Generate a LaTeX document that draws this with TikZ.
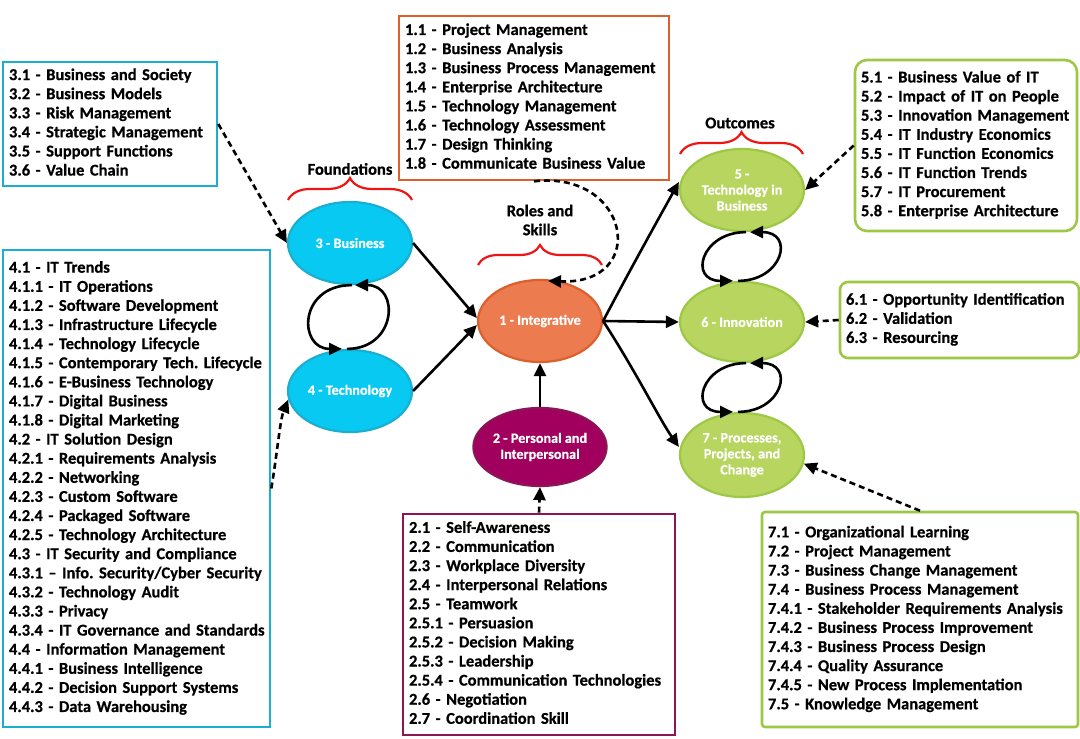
\documentclass[tikz,border=0pt]{standalone}
\usepackage{fontspec}
\setmainfont{Carlito}[BoldFont={Carlito Bold}, BoldFeatures={FakeBold=0.6}]
\usetikzlibrary{arrows.meta,shapes.geometric,decorations.pathreplacing,calc}
\definecolor{cyanF}{HTML}{08C9F2}
\definecolor{cyanD}{HTML}{1AAFD0}
\definecolor{orgF}{HTML}{EC7B4F}
\definecolor{orgD}{HTML}{DC602B}
\definecolor{purF}{HTML}{A2005E}
\definecolor{purD}{HTML}{8C1556}
\definecolor{grnF}{HTML}{B7D55F}
\definecolor{grnD}{HTML}{9DC846}
\definecolor{bracered}{HTML}{F01515}
\frenchspacing
\begin{document}
\begin{tikzpicture}[x=1pt,y=-1pt,
  listbox/.style={draw=#1, line width=2.6pt, fill=white, inner xsep=6pt, inner ysep=0pt, align=left,
    font=\fontsize{16.5}{19.1}\selectfont\bfseries},
  oval/.style={ellipse, draw=#1D, fill=#1F, line width=2.2pt, minimum width=124pt, minimum height=82pt,
    inner sep=0pt, text=white, align=center, font=\fontsize{14.2}{16}\selectfont\bfseries},
  lbl/.style={align=center, font=\fontsize{16.5}{19}\selectfont\bfseries, inner sep=0pt},
  arr/.style={line width=2.6pt, -{Triangle[length=13pt,width=12pt]}},
  darr/.style={arr, dash pattern=on 6pt off 4pt},
  brc/.style={draw=bracered, line width=2.2pt, decorate, decoration={brace, amplitude=#1}},
]
\useasboundingbox (0,0) rectangle (1080,739);

% ---------- list boxes ----------
\node[listbox=cyanD, text width=202pt, minimum height=124pt] (b3) at (110,124) {\begin{tabular}{@{}l@{}}
3.1 - Business and Society\\
3.2 - Business Models\\
3.3 - Risk Management\\
3.4 - Strategic Management\\
3.5 - Support Functions\\
3.6 - Value Chain
\end{tabular}};

\node[listbox=cyanD, text width=255pt, minimum height=477pt] (b4) at (136.5,488.5) {\begin{tabular}{@{}l@{}}
4.1 - IT Trends\\
4.1.1 - IT Operations\\
4.1.2 - Software Development\\
4.1.3 - Infrastructure Lifecycle\\
4.1.4 - Technology Lifecycle\\
4.1.5 - Contemporary Tech. Lifecycle\\
4.1.6 - E-Business Technology\\
4.1.7 - Digital Business\\
4.1.8 - Digital Marketing\\
4.2 - IT Solution Design\\
4.2.1 - Requirements Analysis\\
4.2.2 - Networking\\
4.2.3 - Custom Software\\
4.2.4 - Packaged Software\\
4.2.5 - Technology Architecture\\
4.3 - IT Security and Compliance\\
4.3.1 – Info. Security/Cyber Security\\
4.3.2 - Technology Audit\\
4.3.3 - Privacy\\
4.3.4 - IT Governance and Standards\\
4.4 - Information Management\\
4.4.1 - Business Intelligence\\
4.4.2 - Decision Support Systems\\
4.4.3 - Data Warehousing
\end{tabular}};

\node[listbox=orgD, text width=258pt, minimum height=164pt] (b1) at (534,98) {\begin{tabular}{@{}l@{}}
1.1 - Project Management\\
1.2 - Business Analysis\\
1.3 - Business Process Management\\
1.4 - Enterprise Architecture\\
1.5 - Technology Management\\
1.6 - Technology Assessment\\
1.7 - Design Thinking\\
1.8 - Communicate Business Value
\end{tabular}};

\node[listbox=grnD, rounded corners=12pt, text width=210pt, minimum height=171pt] (b5) at (966,145.5) {\begin{tabular}{@{}l@{}}
5.1 - Business Value of IT\\
5.2 - Impact of IT on People\\
5.3 - Innovation Management\\
5.4 - IT Industry Economics\\
5.5 - IT Function Economics\\
5.6 - IT Function Trends\\
5.7 - IT Procurement\\
5.8 - Enterprise Architecture
\end{tabular}};

\node[listbox=grnD, rounded corners=8pt, text width=227pt, minimum height=76pt] (b6) at (959.5,320) {\begin{tabular}{@{}l@{}}
6.1 - Opportunity Identification\\
6.2 - Validation\\
6.3 - Resourcing
\end{tabular}};

\node[listbox=purD, text width=260pt, minimum height=221pt] (b2) at (539,624.5) {\begin{tabular}{@{}l@{}}
2.1 - Self-Awareness\\
2.2 - Communication\\
2.3 - Workplace Diversity\\
2.4 - Interpersonal Relations\\
2.5 - Teamwork\\
2.5.1 - Persuasion\\
2.5.2 - Decision Making\\
2.5.3 - Leadership\\
2.5.4 - Communication Technologies\\
2.6 - Negotiation\\
2.7 - Coordination Skill
\end{tabular}};

\node[listbox=grnD, rounded corners=3pt, text width=304pt, minimum height=215pt] (b7) at (920,619.5) {\begin{tabular}{@{}l@{}}
7.1 - Organizational Learning\\
7.2 - Project Management\\
7.3 - Business Change Management\\
7.4 - Business Process Management\\
7.4.1 - Stakeholder Requirements Analysis\\
7.4.2 - Business Process Improvement\\
7.4.3 - Business Process Design\\
7.4.4 - Quality Assurance\\
7.4.5 - New Process Implementation\\
7.5 - Knowledge Management
\end{tabular}};

% ---------- ellipses ----------
\node[oval=cyan] (bus) at (350,243) {3 - Business};
\node[oval=cyan] (tech) at (350,391) {4 - Technology};
\node[oval=org] (integ) at (540,321) {1 - Integrative};
\node[oval=pur, minimum height=78pt] (pers) at (540,447) {2 - Personal and\\Interpersonal};
\node[oval=grn] (tib) at (742,190) {5 -\\Technology in\\Business};
\node[oval=grn, minimum height=80pt] (inn) at (742,322) {6 - Innovation};
\node[oval=grn, minimum height=84pt] (proc) at (742,455) {7 - Processes,\\Projects, and\\Change};

% ---------- labels and braces ----------
\node[lbl] (fnd) at (350,169) {Foundations};
\node[lbl] (rol) at (540,220) {Roles and\\Skills};
\node[lbl] (out) at (740,123) {Outcomes};
\draw[brc=22pt] (288,200) -- (412,200);
\draw[brc=20pt] (478,265) -- (602,265);
\draw[brc=22pt] (680,154) -- (803,154);

% ---------- solid arrows ----------
\draw[arr] (bus.east) -- ($(integ.west)+(0,-3)$);
\draw[arr] (tech.east) -- ($(integ.west)+(0,4)$);
\draw[arr] (pers.north) -- (integ.south);
\draw[arr] (integ.east) .. controls (630,270) and (655,225) .. ($(tib.west)+(0,-8)$);
\draw[arr] (integ.east) -- (inn.west);
\draw[arr] (integ.east) .. controls (635,370) and (660,420) .. ($(proc.west)+(0,-8)$);

% loops
\draw[arr] ($(tech.north)+(-3,0)$) .. controls +(50,0) and +(45,0) .. ($(bus.south)+(5,0)$);
\draw[arr] ($(bus.south)+(2,0)$) .. controls +(-54,0) and +(-44,0) .. ($(tech.north)+(-8,0)$);
\draw[arr] ($(inn.north)+(-4,0)$) .. controls +(45,0) and +(45,0) .. ($(tib.south)+(8,0)$);
\draw[arr] ($(tib.south)+(4,0)$) .. controls +(-45,0) and +(-45,0) .. ($(inn.north)+(-9,0)$);
\draw[arr] ($(proc.north)+(-4,0)$) .. controls +(45,0) and +(45,0) .. ($(inn.south)+(8,0)$);
\draw[arr] ($(inn.south)+(4,0)$) .. controls +(-45,0) and +(-45,0) .. ($(proc.north)+(-9,0)$);

% ---------- dashed arrows ----------
\draw[darr] (b3.east) -- (bus.west);
\draw[darr] (b4.east) .. controls (277,455) and (280,420) .. (tech.188);
\draw[darr] (b1.south) .. controls (630,170) and (650,285) .. ($(integ.north)+(8,2)$);
\draw[darr] (b5.west) -- (tib.east);
\draw[darr] (b6.west) -- (inn.east);
\draw[darr] (b7.north) -- (proc.-8);
\draw[darr] (b2.north) -- (pers.south);
\end{tikzpicture}
\end{document}
